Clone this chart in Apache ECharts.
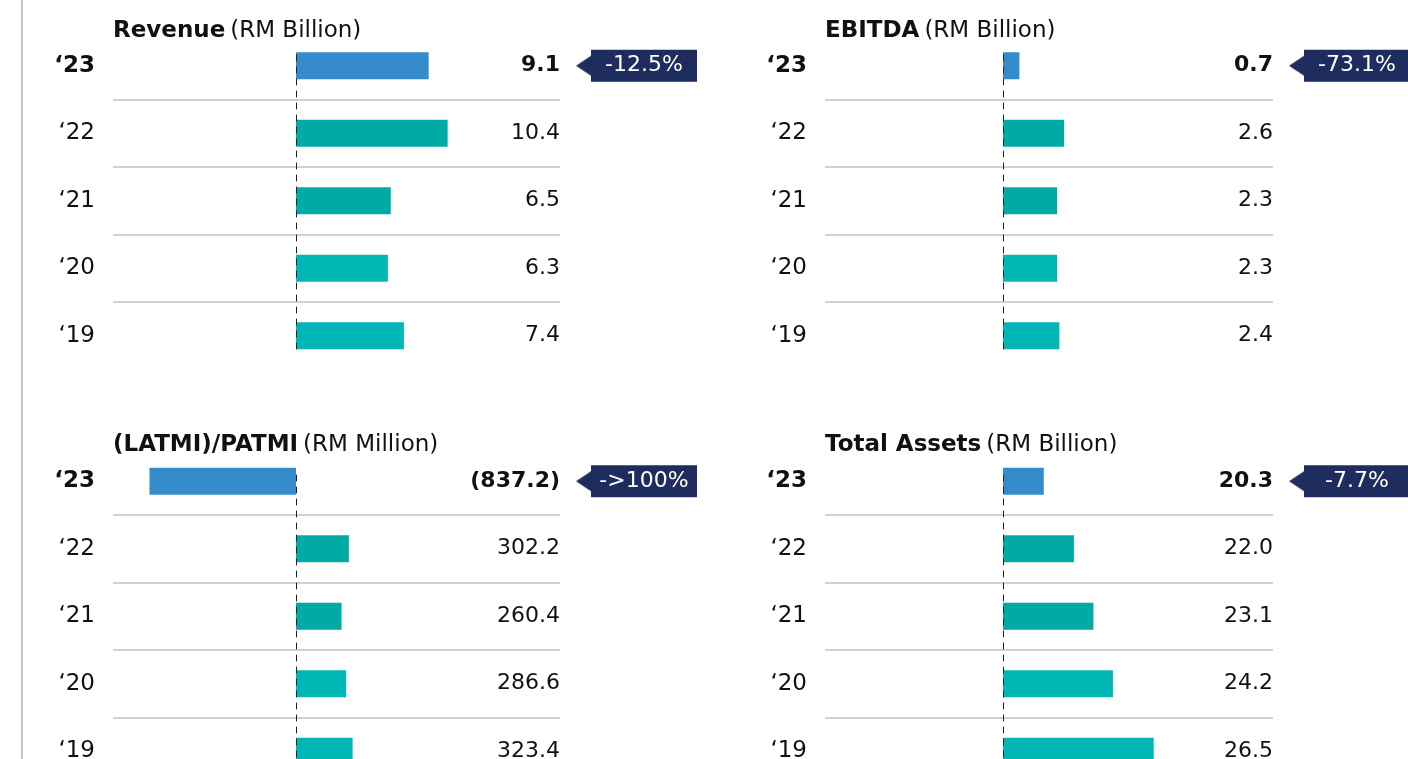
<!DOCTYPE html>
<html>
<head>
<meta charset="utf-8">
<title>Financial highlights</title>
<script src="https://cdn.jsdelivr.net/npm/echarts@6/dist/echarts.min.js"></script>
<style>
  html, body { margin: 0; padding: 0; background: #fff; }
  #main { width: 1408px; height: 759px; }
</style>
</head>
<body>
<div id="main"></div>
<script>
// years, latest on top
var years = ['‘23', '‘22', '‘21', '‘20', '‘19']

var revenue = [9.1, 10.4, 6.5, 6.3, 7.4]
var ebitda = [0.7, 2.6, 2.3, 2.3, 2.4]
var patmi = [-837.2, 302.2, 260.4, 286.6, 323.4]
var totalAssets = [20.3, 22.0, 23.1, 24.2, 26.5]

// year-on-year change shown in the badge
var revenueChange = '-12.5%'
var ebitdaChange = '-73.1%'
var patmiChange = '->100%'
var totalAssetsChange = '-7.7%'

var FONT = 'DejaVu Sans'
var TEXT = '#111'
var barColors = ['#368ccb', '#00aba6', '#00aba6', '#00b7b5', '#00b7b5']

// layout of the 4 panels (scale = px per unit, base = where the bars start)
var panels = [
  { name: 'Revenue', unit: '(RM Billion)', data: revenue, change: revenueChange,
    left: 113, width: 447, baseX: 296, top: 32, titleTop: 20, dashTop: 54, dashH: 295, scale: 14.58, base: 0 },
  { name: 'EBITDA', unit: '(RM Billion)', data: ebitda, change: ebitdaChange,
    left: 825, width: 448, baseX: 1003, top: 32, titleTop: 20, dashTop: 54, dashH: 295, scale: 23.5, base: 0 },
  { name: '(LATMI)/PATMI', unit: '(RM Million)', data: patmi, change: patmiChange,
    left: 113, width: 447, baseX: 296, top: 447.5, titleTop: 434, dashTop: 469, dashH: 300, scale: 0.175, base: 0 },
  { name: 'Total Assets', unit: '(RM Billion)', data: totalAssets, change: totalAssetsChange,
    left: 825, width: 448, baseX: 1003, top: 447.5, titleTop: 434, dashTop: 469, dashH: 300, scale: 17.73, base: 18 }
]

function fmt(v) {
  return v < 0 ? '(' + (-v).toFixed(1) + ')' : v.toFixed(1)
}

// little triangle on the left of the badge
function arrowImage(color) {
  var c = document.createElement('canvas')
  c.width = 15
  c.height = 20
  var ctx = c.getContext('2d')
  ctx.fillStyle = color
  ctx.beginPath()
  ctx.moveTo(0, 10)
  ctx.lineTo(15, 0)
  ctx.lineTo(15, 20)
  ctx.closePath()
  ctx.fill()
  return c
}
var arrow = arrowImage('#1f2d5e')

var myChart = echarts.init(document.getElementById('main'))

var grid = []
var xAxis = []
var yAxis = []
var series = []
var title = []

panels.forEach(function (p) {
  var off = p.baseX - p.left

  title.push({
    left: p.left,
    top: p.titleTop,
    padding: 0,
    text: '{b|' + p.name + '} {n|' + p.unit + '}',
    textStyle: {
      rich: {
        b: { fontFamily: FONT, fontSize: 23, fontWeight: 'bold', color: TEXT },
        n: { fontFamily: FONT, fontSize: 23, fontWeight: 'normal', color: TEXT }
      }
    }
  })

  // main grid with the bars
  var gi = grid.length
  grid.push({ left: p.left, top: p.top, width: p.width, height: 337.5, outerBoundsMode: 'none' })
  xAxis.push({
    gridIndex: gi,
    type: 'value',
    show: false,
    min: p.base - off / p.scale,
    max: p.base + (p.width - off) / p.scale,
    startValue: p.base
  })

  var yi = yAxis.length
  // year labels + row separators
  yAxis.push({
    gridIndex: gi,
    type: 'category',
    data: years,
    inverse: true,
    position: 'left',
    axisLine: { show: false },
    axisTick: { show: false },
    axisLabel: {
      margin: 18,
      fontFamily: FONT,
      fontSize: 23,
      color: TEXT,
      formatter: function (v, idx) {
        return idx === 0 ? '{b|' + v + '}' : v
      },
      rich: { b: { fontFamily: FONT, fontSize: 23, fontWeight: 'bold', color: TEXT } }
    },
    splitLine: {
      show: true,
      interval: 0,
      showMinLine: false,
      showMaxLine: false,
      lineStyle: { color: '#c2c2c2', width: 1.5 }
    }
  })
  // values, right aligned at the end of the row
  yAxis.push({
    gridIndex: gi,
    type: 'category',
    data: years,
    inverse: true,
    position: 'right',
    axisLine: { show: false },
    axisTick: { show: false },
    splitLine: { show: false },
    axisLabel: {
      inside: true,
      margin: 0,
      fontFamily: FONT,
      fontSize: 22,
      color: TEXT,
      formatter: function (v, idx) {
        var s = fmt(p.data[idx])
        return idx === 0 ? '{b|' + s + '}' : s
      },
      rich: { b: { fontFamily: FONT, fontSize: 22, fontWeight: 'bold', color: TEXT } }
    }
  })
  // change badge next to the latest year
  yAxis.push({
    gridIndex: gi,
    type: 'category',
    data: years,
    inverse: true,
    position: 'right',
    axisLine: { show: false },
    axisTick: { show: false },
    splitLine: { show: false },
    axisLabel: {
      margin: 16,
      formatter: function (v, idx) {
        return idx === 0 ? '{tri| }{box|' + p.change + '}' : ''
      },
      rich: {
        tri: { width: 15, height: 20, backgroundColor: { image: arrow } },
        box: {
          fontFamily: FONT,
          fontSize: 22,
          color: '#fff',
          backgroundColor: '#1f2d5e',
          width: 84,
          align: 'center',
          lineHeight: 22,
          padding: [5, 11, 5, 11]
        }
      }
    }
  })

  series.push({
    type: 'bar',
    xAxisIndex: gi,
    yAxisIndex: yi,
    barWidth: 27,
    data: p.data,
    itemStyle: {
      color: function (params) {
        return barColors[params.dataIndex]
      }
    }
  })

  // dashed baseline
  var di = grid.length
  grid.push({ left: p.baseX, top: p.dashTop, width: 20, height: p.dashH, outerBoundsMode: 'none' })
  xAxis.push({ gridIndex: di, type: 'value', show: false, min: 0, max: 1 })
  yAxis.push({
    gridIndex: di,
    type: 'value',
    z: 5,
    position: 'left',
    axisLine: { show: true, onZero: false, lineStyle: { color: '#222', width: 1, type: [6, 6] } },
    axisTick: { show: false },
    axisLabel: { show: false },
    splitLine: { show: false }
  })
})

myChart.setOption({
  animation: false,
  backgroundColor: '#fff',
  title: title,
  grid: grid,
  xAxis: xAxis,
  yAxis: yAxis,
  series: series,
  graphic: [
    {
      type: 'line',
      shape: { x1: 22, y1: 0, x2: 22, y2: 759 },
      style: { stroke: '#c4c4c4', lineWidth: 2 }
    }
  ]
})
</script>
</body>
</html>
